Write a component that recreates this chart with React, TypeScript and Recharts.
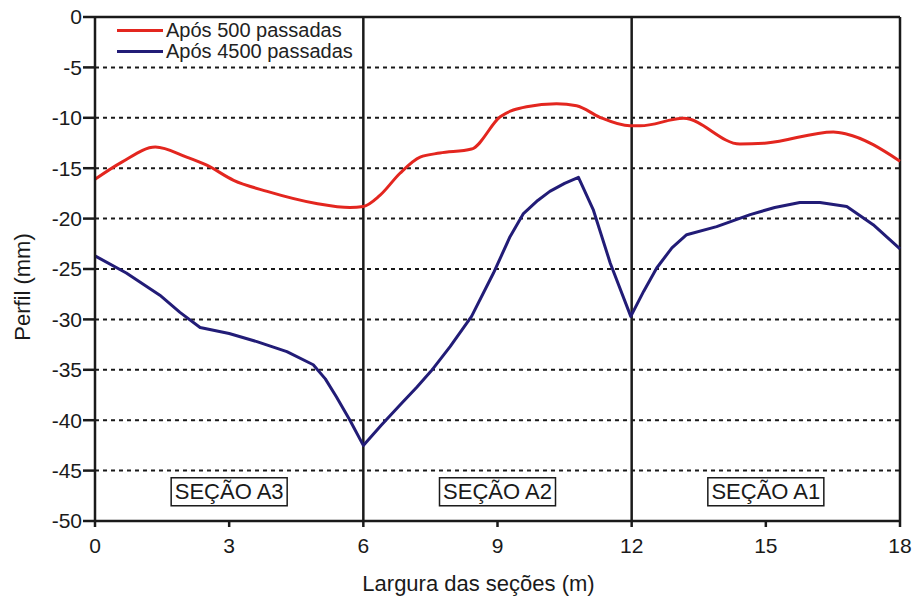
import React from 'react';
import {
  LineChart,
  Line,
  XAxis,
  YAxis,
  CartesianGrid,
  ReferenceLine,
  ReferenceDot,
  Legend,
} from 'recharts';

// Após 500 passadas
const xRed = [0, 0.6, 1.35, 2.05, 2.5, 3.1, 3.85, 4.95, 5.7, 6.0, 6.37, 6.82, 7.27, 7.71, 8.42, 9.06, 9.65, 10.32, 10.77, 11.29, 11.96, 12.19, 13.16, 14.42, 15.02, 16.51, 16.8, 18];
const yRed = [-16.1, -14.4, -12.9, -13.9, -14.7, -16.2, -17.3, -18.5, -18.9, -18.8, -17.7, -15.5, -13.9, -13.5, -13.1, -9.9, -8.9, -8.6, -8.8, -9.95, -10.8, -10.8, -10.05, -12.6, -12.5, -11.4, -11.6, -14.3];

// Após 4500 passadas
const xBlue = [0, 0.7, 1.45, 1.9, 2.35, 3.0, 3.62, 4.29, 4.88, 5.15, 5.4, 5.7, 6.0, 6.4, 6.82, 7.2, 7.52, 7.94, 8.42, 8.91, 9.28, 9.58, 9.9, 10.17, 10.5, 10.81, 11.14, 11.52, 11.98, 12.27, 12.56, 12.9, 13.23, 13.9, 14.65, 15.2, 15.76, 16.21, 16.81, 17.4, 18];
const yBlue = [-23.7, -25.4, -27.6, -29.3, -30.8, -31.4, -32.2, -33.2, -34.5, -35.9, -37.7, -40.0, -42.5, -40.5, -38.5, -36.7, -35.1, -32.7, -29.7, -25.4, -21.8, -19.5, -18.2, -17.3, -16.5, -15.9, -19.1, -24.4, -29.7, -27.2, -24.9, -22.9, -21.6, -20.8, -19.6, -18.9, -18.4, -18.4, -18.8, -20.6, -23.0];

const seriesNames = ['Após 500 passadas', 'Após 4500 passadas'];
const seriesColors = ['#e3261f', '#221c77'];

const xTicks = [0, 3, 6, 9, 12, 15, 18];
const yTicks = [0, -5, -10, -15, -20, -25, -30, -35, -40, -45, -50];

const sectionDividers = [6, 12];
const sectionNames = ['SEÇÃO A3', 'SEÇÃO A2', 'SEÇÃO A1'];
const sectionCenters = [3, 9, 15];
const sectionLabelY = -47.1;

const redData = xRed.map((x, i) => ({ x, y: yRed[i] }));
const blueData = xBlue.map((x, i) => ({ x, y: yBlue[i] }));

const ink = '#1a1a1a';
const font = 'Arial, "Liberation Sans", sans-serif';

function SectionBox(props: any) {
  const { cx, cy, text } = props;
  const w = 116;
  const h = 28;
  return (
    <g>
      <rect x={cx - w / 2} y={cy - h / 2} width={w} height={h} fill="#fff" stroke={ink} strokeWidth={1.5} />
      <text x={cx} y={cy} textAnchor="middle" dominantBaseline="central" fontSize={22} fill={ink} fontFamily={font}>
        {text}
      </text>
    </g>
  );
}

function LegendBox() {
  return (
    <div style={{ fontFamily: font, fontSize: 20, color: '#222', lineHeight: '21px' }}>
      {seriesNames.map((name, i) => (
        <div key={name} style={{ display: 'flex', alignItems: 'center' }}>
          <span style={{ display: 'inline-block', width: 46, height: 3, background: seriesColors[i], marginRight: 3 }} />
          <span>{name}</span>
        </div>
      ))}
    </div>
  );
}

export default function App() {
  return (
    <div style={{ position: 'absolute', left: 0, top: 0, background: '#fff', fontFamily: font }}>
      <LineChart width={913} height={599} margin={{ top: 17, right: 13, bottom: 0, left: 0 }}>
        <CartesianGrid horizontal vertical={false} stroke={ink} strokeWidth={2} strokeDasharray="4 4" />
        <XAxis
          type="number"
          dataKey="x"
          domain={[0, 18]}
          ticks={xTicks}
          height={78}
          stroke={ink}
          strokeWidth={2.5}
          tickSize={6}
          tickMargin={11}
          tick={{ fontSize: 21, fill: ink }}
          allowDuplicatedCategory={false}
          label={{
            content: (p: any) => {
              const vb = p.viewBox;
              return (
                <text x={vb.x + vb.width / 2 - 19} y={vb.y + 70} textAnchor="middle" fontSize={22} fill={ink} fontFamily={font}>
                  Largura das seções (m)
                </text>
              );
            },
          }}
        />
        <YAxis
          type="number"
          domain={[-50, 0]}
          ticks={yTicks}
          width={95}
          stroke={ink}
          strokeWidth={2.5}
          tickSize={12}
          tickMargin={1}
          tick={{ fontSize: 21, fill: ink }}
          interval={0}
          label={{
            content: (p: any) => {
              const vb = p.viewBox;
              const cx = 22;
              const cy = vb.y + vb.height / 2 + 18;
              return (
                <text
                  x={cx}
                  y={cy}
                  transform={`rotate(-90, ${cx}, ${cy})`}
                  textAnchor="middle"
                  dominantBaseline="central"
                  fontSize={22}
                  fill={ink}
                  fontFamily={font}
                >
                  Perfil (mm)
                </text>
              );
            },
          }}
        />
        <ReferenceLine y={0} stroke={ink} strokeWidth={2.5} />
        <ReferenceLine x={18} stroke={ink} strokeWidth={2.5} />
        {sectionDividers.map((d) => (
          <ReferenceLine key={d} x={d} stroke={ink} strokeWidth={2.5} />
        ))}
        {sectionNames.map((name, i) => (
          <ReferenceDot
            key={name}
            x={sectionCenters[i]}
            y={sectionLabelY}
            r={0}
            shape={(p: any) => <SectionBox {...p} text={name} />}
          />
        ))}
        <Line
          data={redData}
          dataKey="y"
          name={seriesNames[0]}
          type="monotone"
          stroke={seriesColors[0]}
          strokeWidth={3}
          dot={false}
          isAnimationActive={false}
        />
        <Line
          data={blueData}
          dataKey="y"
          name={seriesNames[1]}
          type="linear"
          stroke={seriesColors[1]}
          strokeWidth={3}
          strokeLinejoin="round"
          dot={false}
          isAnimationActive={false}
        />
        <Legend
          layout="horizontal"
          verticalAlign="middle"
          align="center"
          content={() => <LegendBox />}
          wrapperStyle={{ left: 117, top: 20, width: 'auto', height: 'auto' }}
        />
      </LineChart>
    </div>
  );
}
